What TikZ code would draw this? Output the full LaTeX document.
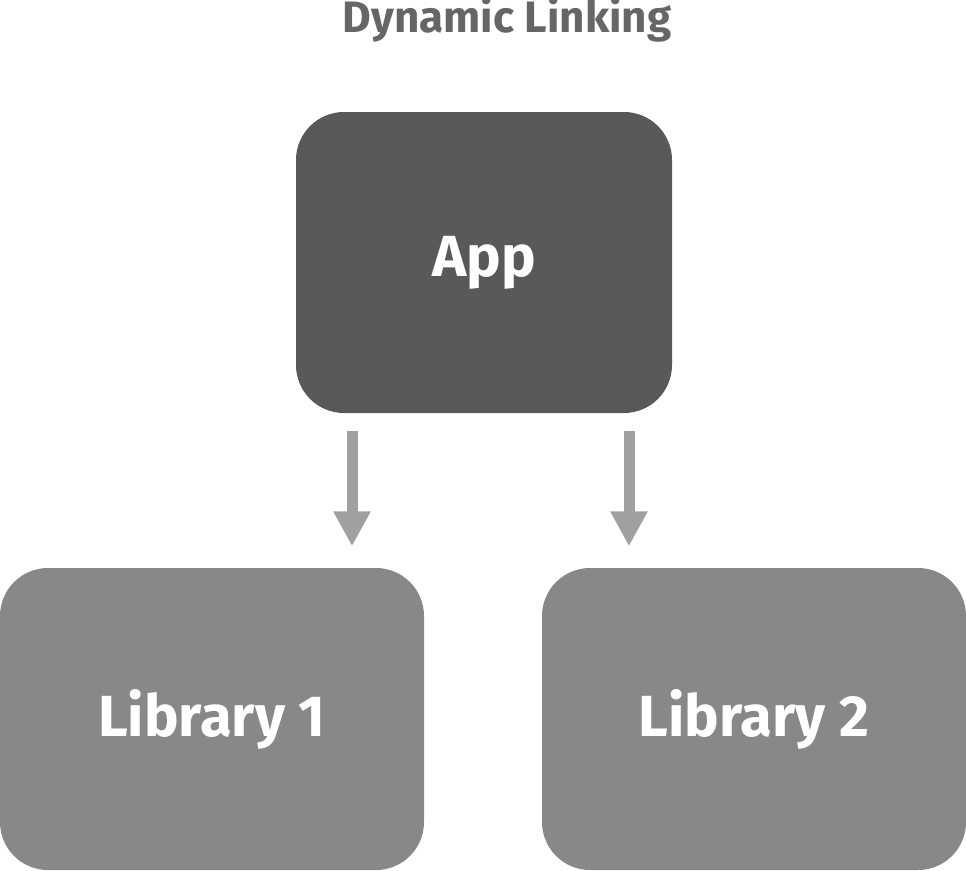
\documentclass[tikz,border=0pt]{standalone}
\usepackage{fontspec}
\setmainfont{Fira Sans}
\usetikzlibrary{arrows.meta}
\definecolor{appc}{HTML}{595959}
\definecolor{libc}{HTML}{888888}
\definecolor{arrc}{HTML}{A0A0A0}
\definecolor{titc}{HTML}{666666}
\begin{document}
\begin{tikzpicture}[x=1pt,y=-1pt,
  boxst/.style={draw=none,rounded corners=48pt,inner sep=0pt,text=white,font=\fontsize{58}{66}\selectfont\bfseries},
  arr/.style={draw=arrc,line width=11pt,-{Triangle[width=35pt,length=35pt]}}]
\useasboundingbox[fill=white] (0,0) rectangle (966,870);
\node[text=titc,font=\fontsize{44}{50}\selectfont\bfseries] (title) at (507,20) {Dynamic Linking};
\node[boxst,fill=appc,minimum width=376pt,minimum height=301pt] (app) at (484,262.5) {App};
\node[boxst,fill=libc,minimum width=424pt,minimum height=302pt] (lib1) at (212,719) {Library 1};
\node[boxst,fill=libc,minimum width=424pt,minimum height=302pt] (lib2) at (754,719) {Library 2};
\draw[arr,shorten <=18pt,shorten >=21.5pt] (app.south -| 352,0) -- (lib1.north -| 352,0);
\draw[arr,shorten <=18pt,shorten >=21.5pt] (app.south -| 629,0) -- (lib2.north -| 629,0);
\end{tikzpicture}
\end{document}
